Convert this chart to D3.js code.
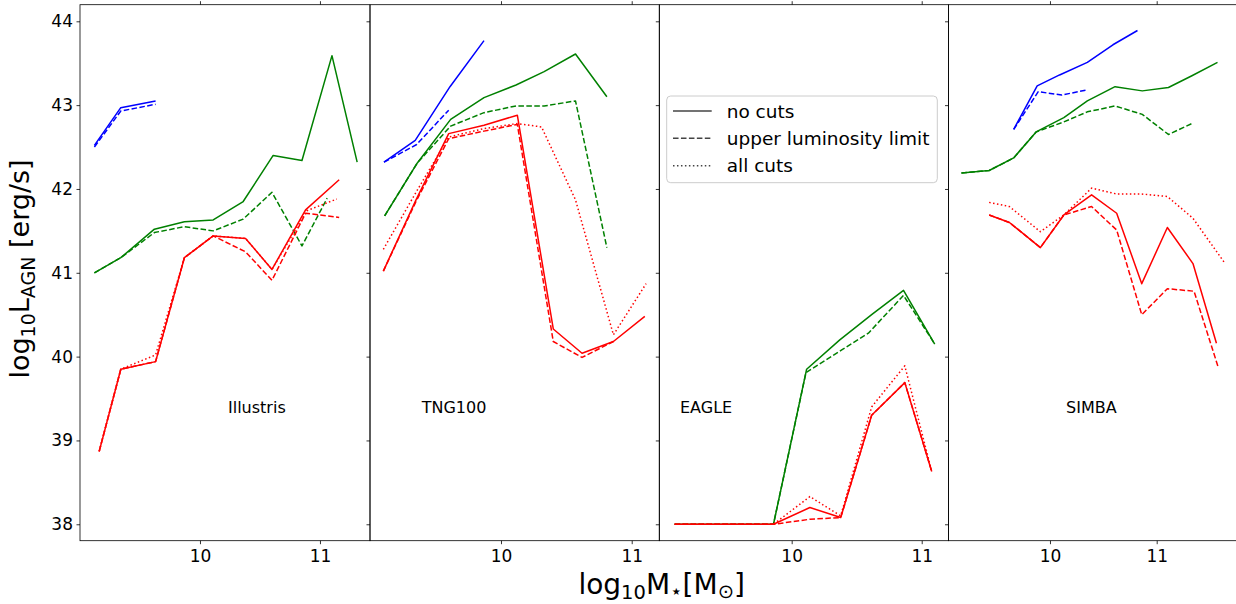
<!DOCTYPE html>
<html><head><meta charset="utf-8">
<script src="https://cdn.jsdelivr.net/npm/d3@7"></script>
<style>body{margin:0;background:#fff}svg{display:block}text{font-family:"DejaVu Sans",sans-serif;fill:#000}</style>
</head><body><svg id="c" width="1236" height="604"></svg>
<script>
// ---------- data ----------
const panelNames = ["Illustris", "TNG100", "EAGLE", "SIMBA"];
const xTickValues = [10, 11];
const yTickValues = [38, 39, 40, 41, 42, 43, 44];
const legendLabels = ["no cuts", "upper luminosity limit", "all cuts"];
const xDomains = [[9.0, 11.417], [8.998, 11.211], [8.982, 11.206], [9.049, 11.762]];
const yDomain = [37.804, 44.198];

// Illustris
const illBlueSolid  = [[9.12,42.52],[9.34,42.97],[9.63,43.05]];
const illBlueDashed = [[9.12,42.50],[9.34,42.93],[9.63,43.01]];
const illGreenSolid = [[9.12,41.00],[9.34,41.18],[9.62,41.52],[9.87,41.61],[10.11,41.63],[10.36,41.85],[10.61,42.40],[10.85,42.34],[11.10,43.59],[11.31,42.32]];
const illGreenDashed= [[9.12,41.00],[9.34,41.18],[9.62,41.48],[9.87,41.55],[10.11,41.50],[10.36,41.64],[10.60,41.96],[10.85,41.32],[11.06,41.89]];
const illRedSolid   = [[9.16,38.87],[9.34,39.85],[9.63,39.94],[9.87,41.18],[10.11,41.44],[10.38,41.41],[10.60,41.04],[10.88,41.75],[11.16,42.11]];
const illRedDashed  = [[9.16,38.87],[9.34,39.85],[9.63,39.94],[9.87,41.18],[10.11,41.44],[10.38,41.25],[10.60,40.91],[10.88,41.71],[11.16,41.66]];
const illRedDotted  = [[9.16,38.87],[9.34,39.85],[9.63,40.02],[9.87,41.18],[10.11,41.44],[10.38,41.41],[10.60,41.04],[10.89,41.74],[11.14,41.88]];

// TNG100
const tngBlueSolid  = [[9.105,42.32],[9.344,42.58],[9.61,43.22],[9.87,43.77]];
const tngBlueDashed = [[9.105,42.32],[9.355,42.53],[9.60,42.94]];
const tngGreenSolid = [[9.11,41.68],[9.36,42.31],[9.615,42.83],[9.87,43.09],[10.115,43.24],[10.33,43.40],[10.57,43.61],[10.81,43.10]];
const tngGreenDashed= [[9.11,41.68],[9.36,42.31],[9.615,42.75],[9.87,42.91],[10.115,42.99],[10.33,42.99],[10.57,43.05],[10.81,41.30]];
const tngRedSolid   = [[9.10,41.02],[9.35,41.87],[9.60,42.66],[9.87,42.76],[10.125,42.88],[10.40,40.33],[10.62,40.04],[10.86,40.18],[11.10,40.48]];
const tngRedDashed  = [[9.10,41.02],[9.35,41.85],[9.60,42.60],[9.87,42.69],[10.125,42.77],[10.40,40.18],[10.62,39.99],[10.86,40.18]];
const tngRedDotted  = [[9.10,41.28],[9.35,41.96],[9.60,42.62],[9.87,42.72],[10.125,42.78],[10.31,42.74],[10.57,41.87],[10.86,40.26],[11.11,40.87]];

// EAGLE
const eagGreenSolid = [[9.10,38],[9.35,38],[9.60,38],[9.86,38],[10.115,39.85],[10.37,40.20],[10.615,40.50],[10.86,40.79],[11.10,40.15]];
const eagGreenDashed= [[9.10,38],[9.35,38],[9.60,38],[9.86,38],[10.11,39.81],[10.385,40.08],[10.59,40.28],[10.86,40.73],[11.10,40.15]];
const eagRedSolid   = [[9.10,38],[9.35,38],[9.60,38],[9.86,38],[10.14,38.20],[10.377,38.08],[10.615,39.30],[10.87,39.69],[11.077,38.63]];
const eagRedDashed  = [[9.10,38],[9.35,38],[9.60,38],[9.86,38],[10.14,38.06],[10.377,38.08],[10.615,39.30],[10.87,39.69],[11.077,38.63]];
const eagRedDotted  = [[9.10,38],[9.35,38],[9.60,38],[9.86,38],[10.14,38.33],[10.377,38.10],[10.615,39.40],[10.87,39.89],[11.077,38.63]];

// SIMBA
const simBlueSolid  = [[9.66,42.71],[9.88,43.23],[10.09,43.36],[10.35,43.51],[10.59,43.72],[10.82,43.89]];
const simBlueDashed = [[9.66,42.71],[9.89,43.16],[10.11,43.12],[10.34,43.18]];
const simGreenSolid = [[9.17,42.19],[9.43,42.22],[9.66,42.37],[9.87,42.68],[10.13,42.85],[10.35,43.05],[10.61,43.22],[10.865,43.17],[11.11,43.21],[11.33,43.35],[11.57,43.51]];
const simGreenDashed= [[9.17,42.19],[9.43,42.22],[9.66,42.37],[9.87,42.68],[10.13,42.80],[10.35,42.92],[10.61,42.99],[10.865,42.89],[11.11,42.65],[11.33,42.78]];
const simRedSolid   = [[9.43,41.69],[9.62,41.60],[9.91,41.30],[10.13,41.69],[10.39,41.93],[10.625,41.71],[10.86,40.87],[11.10,41.54],[11.34,41.11],[11.56,40.16]];
const simRedDashed  = [[9.43,41.69],[9.62,41.60],[9.91,41.30],[10.13,41.69],[10.39,41.79],[10.625,41.51],[10.86,40.50],[11.10,40.81],[11.35,40.78],[11.58,39.86]];
const simRedDotted  = [[9.43,41.84],[9.62,41.79],[9.91,41.49],[10.13,41.69],[10.39,42.01],[10.625,41.94],[10.86,41.94],[11.10,41.91],[11.34,41.65],[11.63,41.13]];

// ---------- build series table ----------
const panelSeries = [
  [["blue","solid",illBlueSolid],["blue","dashed",illBlueDashed],["green","solid",illGreenSolid],["green","dashed",illGreenDashed],["red","solid",illRedSolid],["red","dashed",illRedDashed],["red","dotted",illRedDotted]],
  [["blue","solid",tngBlueSolid],["blue","dashed",tngBlueDashed],["green","solid",tngGreenSolid],["green","dashed",tngGreenDashed],["red","solid",tngRedSolid],["red","dashed",tngRedDashed],["red","dotted",tngRedDotted]],
  [["green","solid",eagGreenSolid],["green","dashed",eagGreenDashed],["red","solid",eagRedSolid],["red","dashed",eagRedDashed],["red","dotted",eagRedDotted]],
  [["blue","solid",simBlueSolid],["blue","dashed",simBlueDashed],["green","solid",simGreenSolid],["green","dashed",simGreenDashed],["red","solid",simRedSolid],["red","dashed",simRedDashed],["red","dotted",simRedDotted]]
];

// ---------- layout / style ----------
const colors = {blue:"#0000ff", green:"#008000", red:"#ff0000"};
const dashes = {solid:null, dashed:"5.55,2.4", dotted:"1.5,2.475"};
const panelLeft = [80, 370, 659.3, 948.5];
const panelRight = [370, 659.3, 948.5, 1238];
const plotTop = 4.7, plotBottom = 540.7;
const labelOffset = [148, 51.7, 20.7, 117.5];
const tickLen = 3.5;

const svg = d3.select("#c");
const y = d3.scaleLinear().domain(yDomain).range([plotBottom, plotTop]);

panelNames.forEach((name, i) => {
  const x = d3.scaleLinear().domain(xDomains[i]).range([panelLeft[i], panelRight[i]]);
  const g = svg.append("g");
  const line = d3.line().x(d => x(d[0])).y(d => y(d[1]));

  panelSeries[i].forEach(([c, s, data]) => {
    g.append("path").datum(data).attr("d", line)
      .attr("fill", "none").attr("stroke", colors[c]).attr("stroke-width", 1.5)
      .attr("stroke-linejoin", "round")
      .attr("stroke-dasharray", dashes[s]);
  });

  // bottom axis
  const xb = d3.axisBottom(x).tickValues(xTickValues).tickSize(tickLen).tickPadding(3.5).tickFormat(d3.format("d"));
  const gb = svg.append("g").attr("transform", `translate(0,${plotBottom})`).call(xb);
  gb.select(".domain").remove();
  gb.selectAll(".tick line").attr("stroke", "#000").attr("stroke-width", 0.8);
  gb.selectAll(".tick text").attr("font-size", 17).attr("font-family", "DejaVu Sans").attr("dy", "0.85em");
  // top ticks
  const xt = d3.axisTop(x).tickValues(xTickValues).tickSize(tickLen).tickFormat("");
  const gt = svg.append("g").attr("transform", `translate(0,${plotTop})`).call(xt);
  gt.select(".domain").remove();
  gt.selectAll(".tick line").attr("stroke", "#000").attr("stroke-width", 0.8);

  // left axis
  const ya = d3.axisLeft(y).tickValues(yTickValues).tickSize(tickLen).tickPadding(3.5)
    .tickFormat(i === 0 ? d3.format("d") : "");
  const gl = svg.append("g").attr("transform", `translate(${panelLeft[i]},0)`).call(ya);
  gl.select(".domain").remove();
  gl.selectAll(".tick line").attr("stroke", "#000").attr("stroke-width", 0.8);
  gl.selectAll(".tick text").attr("font-size", 17).attr("font-family", "DejaVu Sans");

  // frame
  svg.append("rect").attr("x", panelLeft[i]).attr("y", plotTop)
    .attr("width", panelRight[i] - panelLeft[i]).attr("height", plotBottom - plotTop)
    .attr("fill", "none").attr("stroke", "#000").attr("stroke-width", 0.8);

  // panel label
  svg.append("text").attr("x", panelLeft[i] + labelOffset[i]).attr("y", 413)
    .attr("font-size", 16).text(name);
});

// legend
const lg = svg.append("g");
lg.append("rect").attr("x", 666.7).attr("y", 96).attr("width", 270.6).attr("height", 86.7)
  .attr("rx", 4).attr("fill", "#fff").attr("fill-opacity", 0.8).attr("stroke", "#ccc").attr("stroke-width", 1);
const legendStyles = ["solid", "dashed", "dotted"];
legendLabels.forEach((lab, k) => {
  const cy = 111 + k * 27.35;
  lg.append("line").attr("x1", 673).attr("x2", 711.7).attr("y1", cy).attr("y2", cy)
    .attr("stroke", "#444").attr("stroke-width", 1.5).attr("stroke-dasharray", dashes[legendStyles[k]]);
  lg.append("text").attr("x", 726.7).attr("y", cy).attr("dy", "0.36em").attr("font-size", 18.5).text(lab);
});

// axis labels
const yl = svg.append("text").attr("transform", "translate(29,269) rotate(-90)")
  .attr("text-anchor", "middle").attr("font-size", 27);
yl.append("tspan").text("log");
yl.append("tspan").attr("dy", 6).attr("font-size", 19).text("10");
yl.append("tspan").attr("dy", -6).text("L");
yl.append("tspan").attr("dy", 6).attr("font-size", 19).text("AGN");
yl.append("tspan").attr("dy", -6).text(" [erg/s]");

const xl = svg.append("text").attr("x", 661.7).attr("y", 594)
  .attr("text-anchor", "middle").attr("font-size", 28);
xl.append("tspan").text("log");
xl.append("tspan").attr("dy", 5).attr("font-size", 19.5).text("10");
xl.append("tspan").attr("dy", -5).text("M");
xl.append("tspan").attr("dy", 4).attr("font-size", 20).text("⋆");
xl.append("tspan").attr("dy", -4).text("[M");
xl.append("tspan").attr("dy", 4).attr("font-size", 19.5).text("⊙");
xl.append("tspan").attr("dy", -4).text("]");
</script></body></html>
